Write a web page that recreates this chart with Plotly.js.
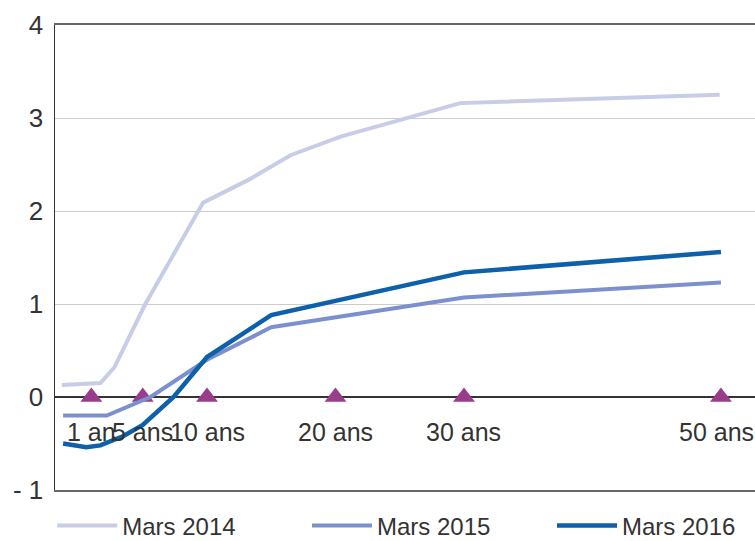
<!DOCTYPE html>
<html>
<head>
<meta charset="utf-8">
<script src="https://cdn.plot.ly/plotly-3.0.1.min.js"></script>
<style>html,body{margin:0;padding:0;background:#fff;}#chart{width:755px;height:541px;}</style>
</head>
<body>
<div id="chart"></div>
<script>
// Maturity markers (years) and their labels
var maturities = [1, 5, 10, 20, 30, 50];
var maturityLabels = ["1 an", "5 ans", "10 ans", "20 ans", "30 ans", "50 ans"];

// Series (x in years, y in %)
var x2014 = [-1.3, 1.7, 2.8, 5.2, 9.7, 13.3, 16.5, 20.4, 29.7, 49.9];
var y2014 = [0.13, 0.15, 0.32, 1.0, 2.09, 2.34, 2.6, 2.8, 3.16, 3.25];

var x2015 = [-1.2, 2.2, 5.6, 10, 15, 30, 50];
var y2015 = [-0.2, -0.2, 0.0, 0.4, 0.75, 1.07, 1.23];

var x2016 = [-1.2, 0.6, 1.7, 3.5, 5.0, 7.4, 10, 15, 30, 50];
var y2016 = [-0.5, -0.54, -0.52, -0.42, -0.3, 0.0, 0.43, 0.88, 1.34, 1.56];

var seriesNames = ["Mars 2014", "Mars 2015", "Mars 2016"];

var yTickVals = [-1, 0, 1, 2, 3, 4];
var yTickText = ["- 1", "0", "1", "2", "3", "4"];

var FONT = "'Liberation Sans', Arial, sans-serif";

var traces = [
  {
    x: maturities, y: maturities.map(function(){return 0;}),
    type: "scatter", mode: "markers", showlegend: false, hoverinfo: "skip",
    marker: {symbol: "triangle-up", size: 19, color: "#993c8c"}
  },
  {x: x2014, y: y2014, name: seriesNames[0], type: "scatter", mode: "lines", legend: "legend",
   line: {color: "#c7cde6", width: 4}},
  {x: x2015, y: y2015, name: seriesNames[1], type: "scatter", mode: "lines", legend: "legend2",
   line: {color: "#7d90ce", width: 4}},
  {x: x2016, y: y2016, name: seriesNames[2], type: "scatter", mode: "lines", legend: "legend3",
   line: {color: "#0d60a9", width: 4.5}}
];

var annotations = maturities.map(function(m, i){
  return {x: m, y: 0, xref: "x", yref: "y", text: maturityLabels[i],
          showarrow: false, yanchor: "middle", xanchor: "center", yshift: -35,
          xshift: (i === maturities.length - 1) ? -4 : 0,
          font: {family: FONT, size: 25, color: "#333"}};
});

function legendAt(xpos) {
  return {orientation: "h", x: xpos, xanchor: "left", y: -0.077, yanchor: "middle",
          bgcolor: "rgba(0,0,0,0)",
          font: {family: FONT, size: 24, color: "#333"}, itemwidth: 60};
}

var layout = {
  width: 755, height: 541,
  margin: {l: 55, r: 0, t: 25, b: 51, autoexpand: false},
  paper_bgcolor: "#fff", plot_bgcolor: "#fff",
  showlegend: true,
  legend: legendAt(-0.004),
  legend2: legendAt(0.36),
  legend3: legendAt(0.71),
  xaxis: {range: [-1.83, 52.65], showticklabels: false, showgrid: false, zeroline: false,
          showline: true, mirror: true, linecolor: "#666", linewidth: 2, ticks: "", fixedrange: true},
  yaxis: {range: [-1, 4], tickvals: yTickVals, ticktext: yTickText,
          showgrid: true, gridcolor: "#cccccc", gridwidth: 1,
          zeroline: true, zerolinecolor: "#333", zerolinewidth: 1.5,
          showline: true, linecolor: "#333", linewidth: 1.5,
          ticks: "", ticklabelstandoff: 5,
          tickfont: {family: FONT, size: 26, color: "#333"}},
  annotations: annotations
};

Plotly.newPlot("chart", traces, layout, {displayModeBar: false, staticPlot: true});
</script>
</body>
</html>
